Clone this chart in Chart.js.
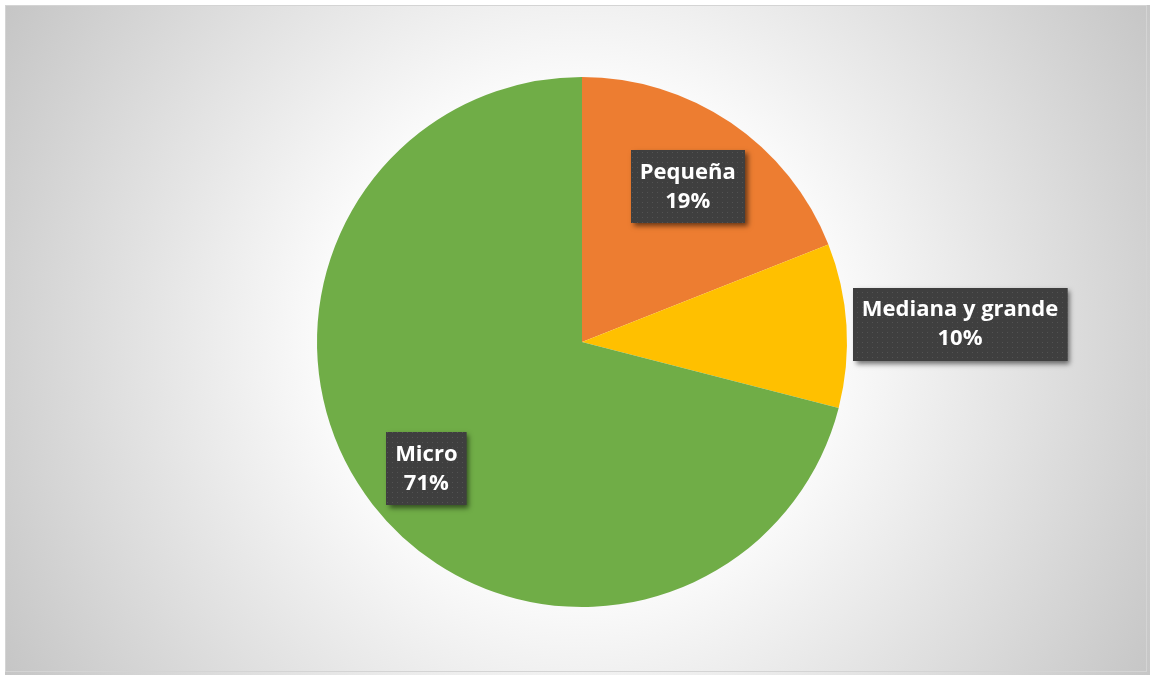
<!DOCTYPE html>
<html>
<head>
<meta charset="utf-8">
<script src="https://cdn.jsdelivr.net/npm/chart.js@4.4.1/dist/chart.umd.min.js"></script>
<style>
  html, body { margin: 0; padding: 0; background: #ffffff; }
  #wrap { width: 1150px; height: 675px; position: relative; }
</style>
</head>
<body>
<div id="wrap"><canvas id="grafico"></canvas></div>
<script>
// Données du graphique
const categorias = ["Pequeña", "Mediana y grande", "Micro"];
const porcentajes = [19, 10, 71];
const colores = ["#ED7D31", "#FFC000", "#70AD47"];

// Position des étiquettes : facteur du rayon et petit décalage d'angle (degrés)
const etiquetteRayon = [0.71, 1.428, 0.757];
const etiquetteDecalage = [0, 0.9, -1.3];

// Motif pointillé des boîtes d'étiquettes
function creerMotif(ctx) {
  const c = document.createElement("canvas");
  c.width = 5; c.height = 5;
  const p = c.getContext("2d");
  p.fillStyle = "#3f3f3f";
  p.fillRect(0, 0, 5, 5);
  p.fillStyle = "#535353";
  p.fillRect(2, 2, 1, 1);
  return ctx.createPattern(c, "repeat");
}

// Fond dégradé radial
const fondPlugin = {
  id: "fond",
  beforeDraw(chart) {
    const ctx = chart.ctx;
    ctx.save();
    ctx.fillStyle = "#ffffff";
    ctx.fillRect(0, 0, chart.width, chart.height);
    const g = ctx.createRadialGradient(580, 340, 0, 580, 340, 690);
    g.addColorStop(0, "#ffffff");
    g.addColorStop(0.38, "#fafafa");
    g.addColorStop(1, "#c2c2c2");
    ctx.fillStyle = g;
    ctx.fillRect(5, 5, chart.width - 5, chart.height - 5);
    ctx.strokeStyle = "#d4d4d4";
    ctx.lineWidth = 1;
    ctx.strokeRect(5.5, 5.5, 1141, 666);
    ctx.restore();
  }
};

// Étiquettes de données
const etiquettesPlugin = {
  id: "etiquettes",
  afterDatasetsDraw(chart) {
    const ctx = chart.ctx;
    const meta = chart.getDatasetMeta(0);
    const motif = creerMotif(ctx);
    ctx.save();
    ctx.font = "bold 22px 'Open Sans'";
    ctx.textAlign = "center";
    ctx.textBaseline = "middle";
    meta.data.forEach((arc, i) => {
      const milieu = (arc.startAngle + arc.endAngle) / 2 + etiquetteDecalage[i] * Math.PI / 180;
      const r = arc.outerRadius * etiquetteRayon[i];
      const cx = arc.x + Math.cos(milieu) * r;
      const cy = arc.y + Math.sin(milieu) * r;
      const ligne1 = categorias[i];
      const ligne2 = porcentajes[i] + "%";
      const largeur = Math.max(ctx.measureText(ligne1).width, ctx.measureText(ligne2).width) + 18;
      const hauteur = 73;
      const x0 = Math.round(cx - largeur / 2);
      const y0 = Math.round(cy - hauteur / 2);

      // ombre
      ctx.save();
      ctx.shadowColor = "rgba(0,0,0,0.55)";
      ctx.shadowBlur = 5;
      ctx.shadowOffsetX = 3;
      ctx.shadowOffsetY = 3;
      ctx.fillStyle = "#3f3f3f";
      ctx.fillRect(x0, y0, largeur, hauteur);
      ctx.restore();

      ctx.fillStyle = motif;
      ctx.fillRect(x0, y0, largeur, hauteur);

      ctx.fillStyle = "#ffffff";
      ctx.fillText(ligne1, cx, cy - 14);
      ctx.fillText(ligne2, cx, cy + 15);
    });
    ctx.restore();
  }
};

new Chart(document.getElementById("grafico"), {
  type: "pie",
  data: {
    labels: categorias,
    datasets: [
      {
        data: porcentajes,
        backgroundColor: colores,
        borderWidth: 0,
      },
    ],
  },
  options: {
    responsive: true,
    maintainAspectRatio: false,
    animation: false,
    layout: {
      padding: { left: 317, right: 303, top: 77, bottom: 68 },
    },
    plugins: {
      legend: { display: false },
      tooltip: { enabled: false },
    },
  },
  plugins: [fondPlugin, etiquettesPlugin],
});
</script>
</body>
</html>
